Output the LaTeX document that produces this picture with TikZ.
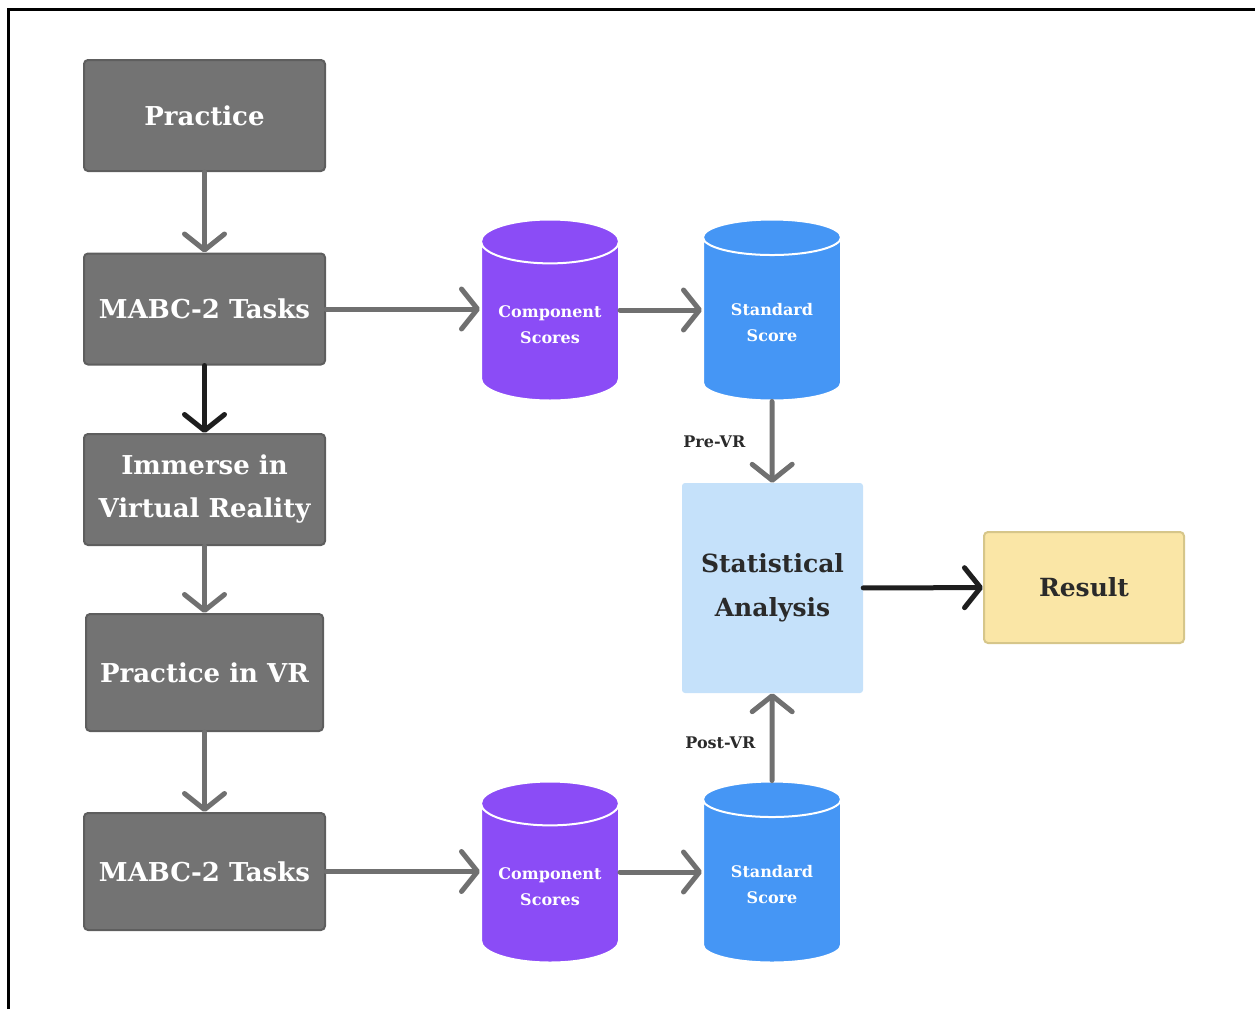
\documentclass[tikz,border=0pt]{standalone}
\usepackage{fontspec}
\setmainfont{DejaVu Serif}
\usepackage{tikz}
\usetikzlibrary{arrows.meta,shapes.geometric}
\usepackage{xcolor}
\definecolor{boxgray}{HTML}{737373}
\definecolor{boxedge}{HTML}{5E5E5E}
\definecolor{arrowgray}{HTML}{707070}
\definecolor{arrowdark}{HTML}{1E1E1E}
\definecolor{compviolet}{HTML}{8B4CF6}
\definecolor{stdblue}{HTML}{4596F5}
\definecolor{statbg}{HTML}{C5E1FA}
\definecolor{resultbg}{HTML}{FAE6A6}
\definecolor{resultedge}{HTML}{D6C68A}
\definecolor{inkdark}{HTML}{2A2A2A}

\tikzset{
  graybox/.style={draw=boxedge, fill=boxgray, line width=2pt, rounded corners=4pt,
    minimum width=241pt, minimum height=111pt, text=white, align=center,
    font=\bfseries\fontsize{26}{43}\selectfont},
  store/.style={cylinder, shape border rotate=90, aspect=0.4, draw=white, line width=2pt,
    minimum width=138pt, minimum height=181pt, text=white, align=center, anchor=shape center,
    font=\bfseries\fontsize{16}{26}\selectfont},
  flow/.style={draw=arrowgray, line width=5pt, line cap=round,
    -{Straight Barb[length=16pt, width=40pt, round]}},
  flowdark/.style={flow, draw=arrowdark},
  tag/.style={text=inkdark, font=\bfseries\fontsize{16}{18}\selectfont}
}

\begin{document}
\begin{tikzpicture}[x=1pt,y=-1pt]
  \useasboundingbox (0,0) rectangle (1255,1009);
  % frame
  \draw[line width=3pt] (8.5,1009) -- (8.5,9.5) -- (1255,9.5);

  % left column
  \node[graybox] (practice) at (204.5,115.5) {Practice};
  \node[graybox] (tasksA) at (204.5,309) {MABC-2 Tasks};
  \node[graybox] (immerse) at (204.5,489.5) {Immerse in\\Virtual Reality};
  \node[graybox, minimum width=237pt, minimum height=117pt] (practicevr) at (204.5,672.5) {Practice in VR};
  \node[graybox, minimum height=117pt] (tasksB) at (204.5,871.5) {MABC-2 Tasks};

  % score stores
  \node[store, fill=compviolet] (compA) at (550,310) {Component\\Scores};
  \node[store, fill=stdblue] (stdA) at (772,310) {Standard\\Score};
  \node[store, fill=compviolet] (compB) at (550,872) {Component\\Scores};
  \node[store, fill=stdblue] (stdB) at (772,872) {Standard\\Score};

  % analysis and result
  \node[fill=statbg, rounded corners=3pt, minimum width=181pt, minimum height=210pt,
    align=center, text=inkdark, font=\bfseries\fontsize{25}{44}\selectfont]
    (stats) at (772.5,588) {Statistical\\Analysis};
  \node[draw=resultedge, fill=resultbg, line width=2pt, rounded corners=4pt,
    minimum width=200pt, minimum height=111pt, text=inkdark,
    font=\bfseries\fontsize{25}{30}\selectfont] (result) at (1084,587.5) {Result};

  \draw[flow] (practice) -- (tasksA);
  \draw[flowdark] (tasksA) -- (immerse);
  \draw[flow] (immerse) -- (practicevr);
  \draw[flow] (practicevr) -- (tasksB);
  \draw[flow] (tasksA) -- (tasksA -| compA.west);
  \draw[flow] (compA.shape center -| compA.east) -- (stdA.shape center -| stdA.west);
  \draw[flow] (tasksB) -- (tasksB -| compB.west);
  \draw[flow] (compB.shape center -| compB.east) -- (stdB.shape center -| stdB.west);
  \draw[flow] (stdA.bottom) -- node[tag, left=21pt] {Pre-VR} (stats);
  \draw[flow] (stdB.top) -- node[tag, left=11pt, yshift=-6pt] {Post-VR} (stats);
  \draw[flowdark] (stats) -- (result);
\end{tikzpicture}
\end{document}
